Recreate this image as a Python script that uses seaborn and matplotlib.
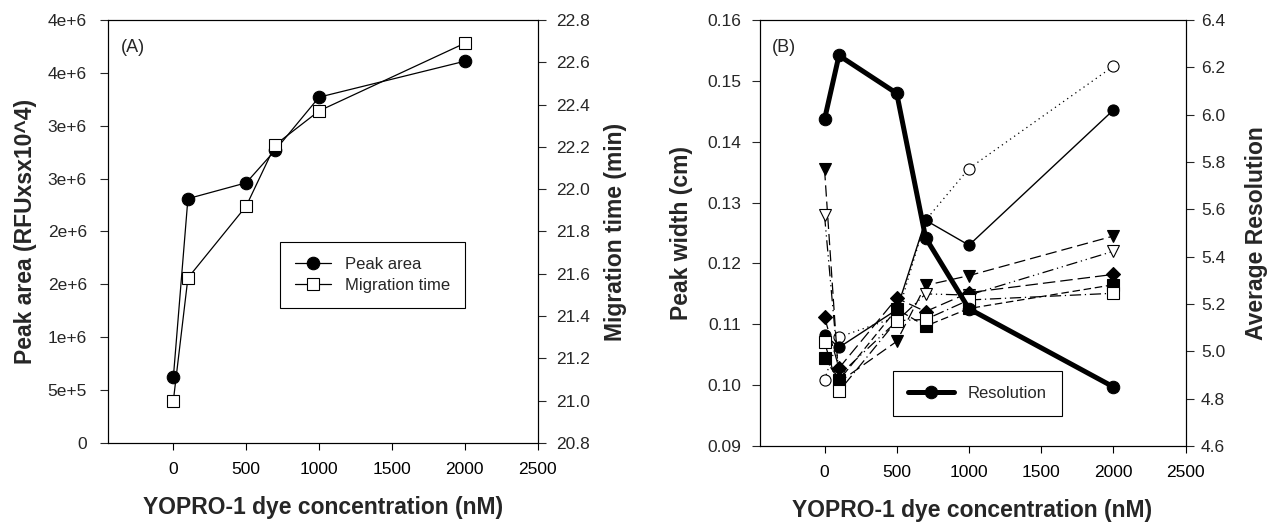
import matplotlib
matplotlib.use("Agg")
import matplotlib.pyplot as plt
import seaborn as sns
import pandas as pd

# data
conc = [0, 100, 500, 700, 1000, 2000]

peak_area = [0.62e6, 2.31e6, 2.46e6, 2.77e6, 3.27e6, 3.61e6]
migration_time = [21.00, 21.58, 21.92, 22.21, 22.37, 22.69]

area_ticks = [0, 0.5e6, 1e6, 1.5e6, 2e6, 2.5e6, 3e6, 3.5e6, 4e6]
area_ticklabels = ['0', '5e+5', '1e+6', '2e+6', '2e+6', '3e+6', '3e+6', '4e+6', '4e+6']

resolution = [5.98, 6.25, 6.09, 5.48, 5.18, 4.85]

width_circle = [0.1083, 0.1062, 0.1124, 0.1271, 0.1230, 0.1452]
width_open_circle = [0.1009, 0.1079, 0.1112, 0.1271, 0.1356, 0.1524]
width_tri = [0.1355, 0.1005, 0.1072, 0.1164, 0.1180, 0.1245]
width_open_tri = [0.1279, 0.1016, 0.1105, 0.1150, 0.1148, 0.1220]
width_diamond = [0.1112, 0.1028, 0.1143, 0.1121, 0.1152, 0.1182]
width_square = [0.1045, 0.1008, 0.1125, 0.1097, 0.1126, 0.1165]
width_open_square = [0.1071, 0.0990, 0.1106, 0.1108, 0.1140, 0.1151]

sns.set_style("ticks")
plt.rcParams['font.family'] = ['Liberation Sans', 'DejaVu Sans']
plt.rcParams['axes.linewidth'] = 0.8

fig = plt.figure(figsize=(12.68, 5.26), dpi=100)
axA = fig.add_axes([0.085, 0.158, 0.339, 0.804])
axB = fig.add_axes([0.599, 0.152, 0.336, 0.810])

xlabel = 'YOPRO-1 dye concentration (nM)'
lab_font = dict(fontsize=16.5, fontweight='bold')
tick_size = 12.5


def style_x(ax):
    ax.set_xlim(-450, 2500)
    ax.set_xticks([0, 500, 1000, 1500, 2000, 2500])
    ax.set_xlabel(xlabel, **lab_font)
    ax.xaxis.set_label_coords(0.5, -0.125)
    ax.tick_params(axis='x', direction='out', length=5, width=0.8, labelsize=tick_size,
                   pad=9, colors='black')


# ---------- panel A ----------
dfA = pd.DataFrame({'conc': conc, 'area': peak_area, 'mt': migration_time})
sns.lineplot(data=dfA, x='conc', y='area', ax=axA, color='black', lw=0.9,
             marker='o', markersize=9, markerfacecolor='black', markeredgecolor='black',
             markeredgewidth=0.8, legend=False)
axA.set_ylim(0, 4e6)
axA.set_yticks(area_ticks)
axA.set_yticklabels(area_ticklabels)
axA.tick_params(axis='y', direction='out', length=6, width=0.8, labelsize=tick_size, pad=9)
axA.set_ylabel('Peak area (RFUxsx10^4)', **lab_font)
axA.yaxis.set_label_coords(-0.165, 0.5)
style_x(axA)
axA.text(0.03, 0.955, '(A)', transform=axA.transAxes, fontsize=13, va='top')

axA2 = axA.twinx()
sns.lineplot(data=dfA, x='conc', y='mt', ax=axA2, color='black', lw=0.9,
             marker='s', markersize=8, markerfacecolor='white', markeredgecolor='black',
             markeredgewidth=0.8, legend=False)
axA2.set_ylim(20.8, 22.8)
axA2.set_yticks([20.8 + 0.2 * i for i in range(11)])
axA2.set_yticklabels([f'{20.8 + 0.2 * i:.1f}' for i in range(11)])
axA2.set_ylabel('Migration time (min)', **lab_font)
axA2.yaxis.set_label_coords(1.155, 0.5)
axA2.tick_params(axis='y', direction='out', length=6, width=0.8, labelsize=tick_size, pad=7)

hA = axA.get_lines()[:1] + axA2.get_lines()[:1]
legA = axA.legend(hA, ['Peak area', 'Migration time'], loc='upper left',
                  bbox_to_anchor=(0.40, 0.476), fontsize=12, frameon=True, fancybox=False,
                  edgecolor='black', framealpha=1, borderpad=0.9, handlelength=2.2,
                  labelspacing=0.4, borderaxespad=0)
legA.get_frame().set_linewidth(0.8)
legA.set_zorder(10)

# ---------- panel B ----------
series = [
    (width_open_circle, 'o', 'white', (0, (1, 3)), 0.9),
    (width_circle, 'o', 'black', '-', 1.0),
    (width_tri, 'v', 'black', (0, (9, 4)), 0.9),
    (width_open_tri, 'v', 'white', (0, (9, 3, 1, 3, 1, 3)), 0.9),
    (width_diamond, 'D', 'black', (0, (10, 4)), 0.9),
    (width_square, 's', 'black', (0, (6, 3)), 0.9),
    (width_open_square, 's', 'white', (0, (9, 3, 1, 3)), 0.9),
]
for vals, mk, fc, ls, lw in series:
    d = pd.DataFrame({'conc': conc, 'w': vals})
    sns.lineplot(data=d, x='conc', y='w', ax=axB, color='black', lw=lw, linestyle=ls,
                 marker=mk, markersize=8 if mk != 'D' else 7, markerfacecolor=fc,
                 markeredgecolor='black', markeredgewidth=0.8, legend=False)
axB.set_ylim(0.09, 0.16)
axB.set_yticks([0.09 + 0.01 * i for i in range(8)])
axB.set_yticklabels([f'{0.09 + 0.01 * i:.2f}' for i in range(8)])
axB.tick_params(axis='y', direction='out', length=6, width=0.8, labelsize=tick_size, pad=7)
axB.set_ylabel('Peak width (cm)', **lab_font)
axB.yaxis.set_label_coords(-0.155, 0.5)
style_x(axB)
axB.text(0.03, 0.955, '(B)', transform=axB.transAxes, fontsize=13, va='top')

axB2 = axB.twinx()
dfR = pd.DataFrame({'conc': conc, 'res': resolution})
sns.lineplot(data=dfR, x='conc', y='res', ax=axB2, color='black', lw=3.6,
             marker='o', markersize=9, markerfacecolor='black', markeredgecolor='black',
             legend=False)
axB2.set_ylim(4.6, 6.4)
axB2.set_yticks([4.6 + 0.2 * i for i in range(10)])
axB2.set_yticklabels([f'{4.6 + 0.2 * i:.1f}' for i in range(10)])
axB2.set_ylabel('Average Resolution', **lab_font)
axB2.yaxis.set_label_coords(1.14, 0.5)
axB2.tick_params(axis='y', direction='out', length=6, width=0.8, labelsize=tick_size, pad=5)

legB = axB2.legend(axB2.get_lines()[:1], ['Resolution'], loc='upper left',
                   bbox_to_anchor=(0.3125, 0.176), fontsize=12, frameon=True, fancybox=False,
                   edgecolor='black', framealpha=1, borderpad=0.9, handlelength=2.8,
                   borderaxespad=0)
legB.get_frame().set_linewidth(0.8)

for ax in (axA, axA2, axB, axB2):
    for s in ax.spines.values():
        s.set_visible(True)
        s.set_color('black')
        s.set_linewidth(0.8)

fig.savefig('out.png', dpi=100)
